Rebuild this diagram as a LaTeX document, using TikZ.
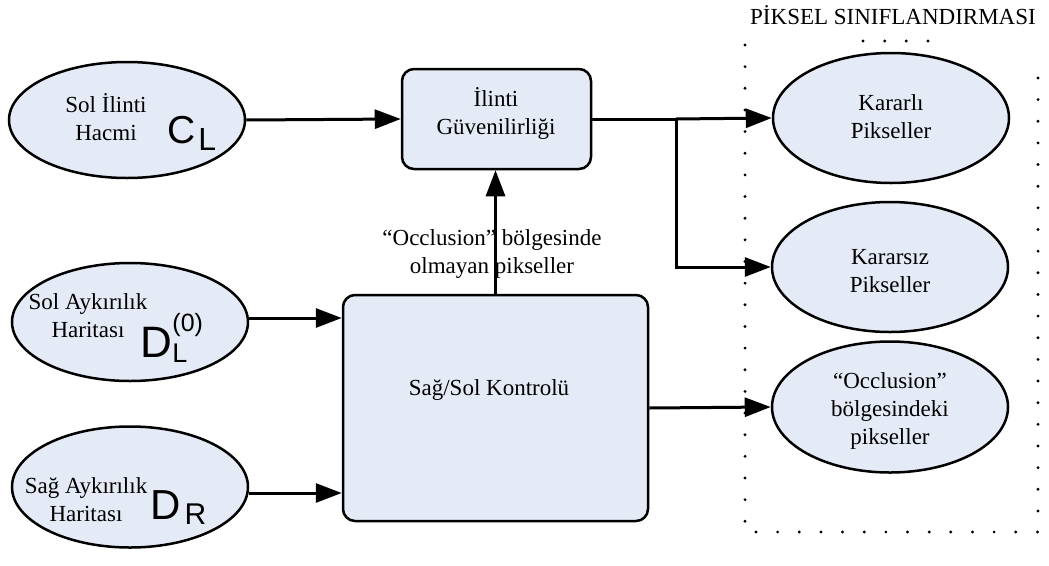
\documentclass[tikz,border=0pt]{standalone}
\usepackage{fontspec}
\setmainfont{Liberation Serif}
\newfontfamily\arial{Liberation Sans}
\usetikzlibrary{shapes.geometric,arrows.meta}
\definecolor{nodefill}{RGB}{228,234,246}
\begin{document}
\begin{tikzpicture}[x=1pt,y=-1pt,
  ell/.style={ellipse, draw, line width=2.5pt, fill=nodefill, minimum width=236pt, minimum height=118pt, inner sep=0pt},
  rbox/.style={rectangle, rounded corners=12pt, draw, line width=2.5pt, fill=nodefill, inner sep=0pt},
  conn/.style={line width=3pt, -{Triangle[length=26pt,width=19pt]}},
  plain/.style={line width=3pt},
  txt/.style={font=\fontsize{23}{28}\selectfont, align=center, inner sep=0pt},
  sym/.style={anchor=base west, inner sep=0pt, font=\arial},
  dotline/.style={line width=3.2pt, line cap=round, dash pattern=on 0pt off 21.65pt}]
\useasboundingbox (0,0) rectangle (1049,565);

% dotted frame
\draw[dotline] (745,45) -- (745,532) -- (1038,532) -- (1038,57);
\draw[dotline] (863,41) -- (930,41);
\node[txt] (title) at (893,15) {PİKSEL SINIFLANDIRMASI};

% left ellipses
\node[ell, minimum height=116pt] (sih) at (127,120) {};
\node[txt] (sihT) at (106,117) {Sol İlinti\\Hacmi};
\node[sym] (cl) at (167,143) {\fontsize{39}{39}\selectfont C\kern3pt\raisebox{-7pt}{\fontsize{32}{32}\selectfont L}};

\node[ell] (sa) at (130,322) {};
\node[txt] (saT) at (88,316) {Sol Aykırılık\\Haritası};
\node[sym] (dl) at (140.5,357) {\fontsize{44}{44}\selectfont D\rlap{\raisebox{26pt}{\fontsize{25}{25}\selectfont (0)}}\raisebox{-5pt}{\fontsize{27}{27}\selectfont L}};

\node[ell, minimum height=121pt] (sg) at (130,487) {};
\node[txt] (sgT) at (86,500) {Sağ Aykırılık\\Haritası};
\node[sym] (dr) at (150.5,519) {\fontsize{42}{42}\selectfont D\kern3.7pt\raisebox{-5pt}{\fontsize{30}{30}\selectfont R}};

% boxes
\node[rbox, minimum width=189pt, minimum height=100pt] (ig) at (496.5,119) {};
\node[txt] (igT) at (496,113) {İlinti\\Güvenilirliği};
\node[rbox, minimum width=305pt, minimum height=226pt] (ko) at (495.5,408) {};
\node[txt] (koT) at (489,390) {Sağ/Sol Kontrolü};

% right ellipses
\node[ell, minimum height=130pt] (ka) at (891,118) {};
\node[txt] (kaT) at (891,117) {Kararlı\\Pikseller};
\node[ell, minimum height=130pt] (kz) at (890,267) {};
\node[txt] (kzT) at (890,271) {Kararsız\\Pikseller};
\node[ell, minimum height=131pt] (oc) at (890,407) {};
\node[txt] (ocT) at (890,411) {“Occlusion”\\bölgesindeki\\pikseller};

% connectors
\draw[conn] (sih.east) -- (ig.west);
\coordinate (br) at (676,119);
\draw[plain] (ig.east) -- (br);
\draw[conn] (br) -- (ka.west);
\draw[conn] (br) |- (kz.west);
\draw[conn] (ko.north) -- (ko.north |- ig.south);
\node[txt] (occlbl) at (492,254) {“Occlusion” bölgesinde\\olmayan pikseller};
\draw[conn] (sa.east) ++(0,-4) -- (ko.west |- 0,318);
\draw[conn] (sg.east) ++(0,6) -- (ko.west |- 0,493);
\draw[conn] (ko.east) -- (oc.west);
\end{tikzpicture}
\end{document}
